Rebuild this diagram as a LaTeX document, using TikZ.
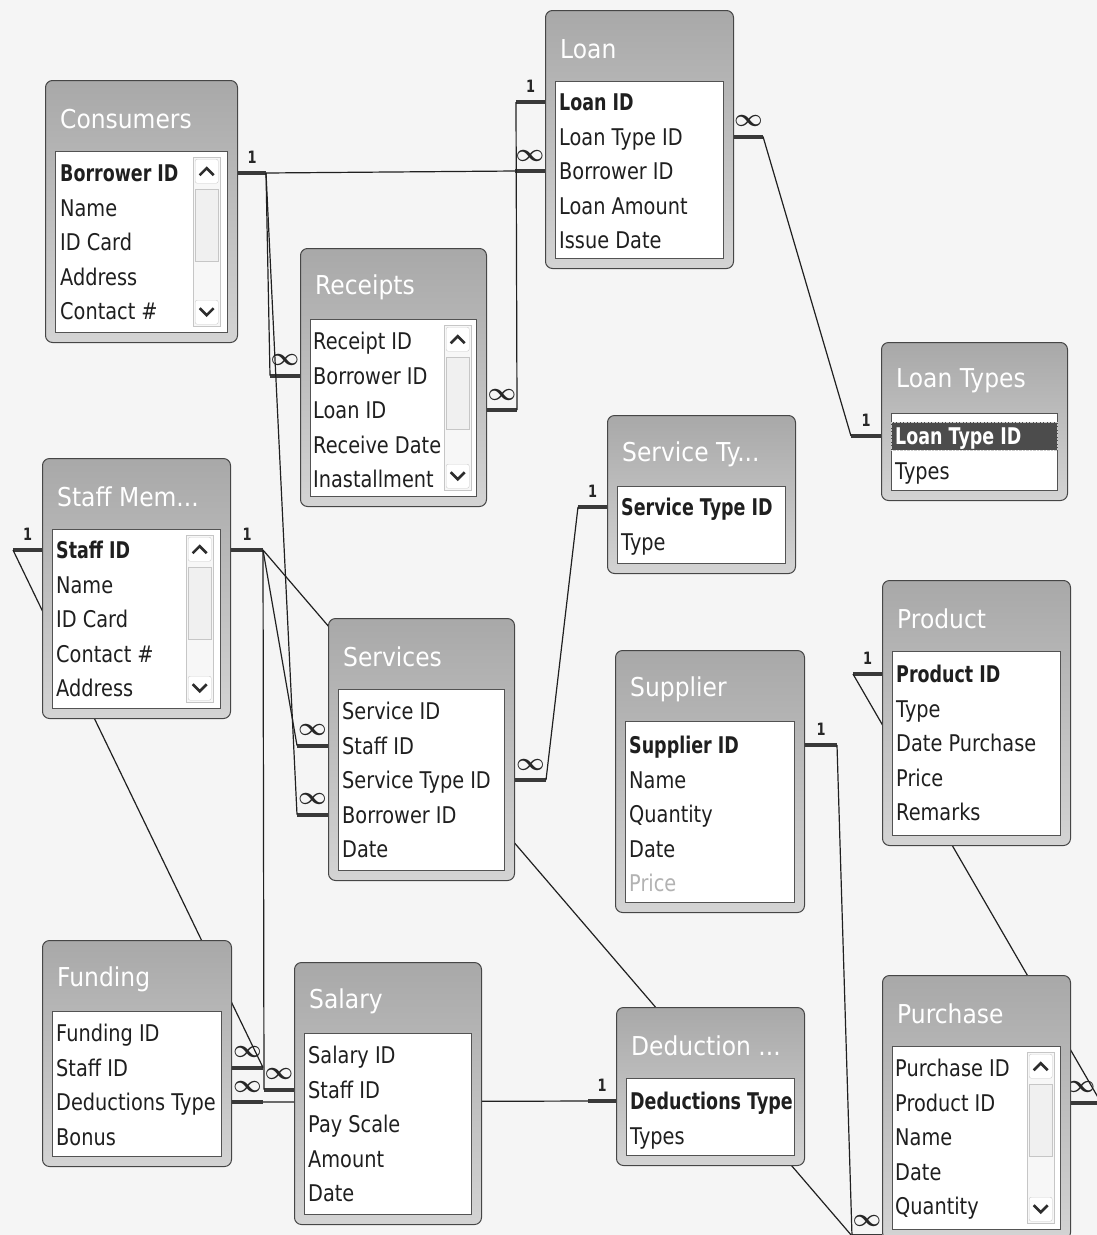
\documentclass[tikz,border=0pt]{standalone}
\usepackage{fontspec}
\newfontfamily\fieldfam[FakeStretch=0.84]{DejaVu Sans}
\newfontfamily\keyfam[FakeStretch=0.76]{DejaVu Sans}
\newfontfamily\titlefam[FakeStretch=0.9]{DejaVu Sans}
\usetikzlibrary{calc}
\pgfdeclarelayer{paper}
\pgfdeclarelayer{background}
\pgfsetlayers{paper,background,main}

\begin{document}
\begin{tikzpicture}[
		x=1pt, y=-1pt,
		tbl/.style    ={draw=gray!55!black, line width=1pt, rounded corners=7pt, top color=gray!68, bottom color=gray!34, anchor=north west, inner sep=0pt},
		fbox/.style   ={draw=gray!65!black, line width=1pt, fill=white, anchor=north west, inner sep=0pt},
		ttl/.style    ={anchor=west, inner sep=0pt, text=white, font=\titlefam\fontsize{26}{26}\selectfont},
		fld/.style    ={anchor=west, inner sep=0pt, text height=17pt, text depth=0pt, text=black!88, font=\fieldfam\fontsize{23}{23}\selectfont},
		key/.style    ={fld, font=\keyfam\bfseries\fontsize{23}{23}\selectfont},
		selrow/.style ={anchor=west, fill=gray!60!black, draw=gray!40, densely dotted, inner sep=0pt, minimum width=166, minimum height=28},
		sbar/.style   ={draw=gray!45, fill=gray!6, anchor=north west, inner sep=0pt, minimum width=27},
		sbtn/.style   ={draw=gray!40, fill=white, rounded corners=2pt, inner sep=0pt, minimum width=23, minimum height=24},
		sthumb/.style ={draw=gray!45, fill=gray!12, inner sep=0pt, minimum width=23, minimum height=72},
		chev/.style   ={draw=gray!35!black, line width=2.6pt},
		stub/.style   ={draw=gray!45!black, line width=4pt},
		rel/.style    ={draw=gray!25!black, line width=1.2pt},
		onelbl/.style ={midway, above=8pt, inner sep=0pt, text=black!85, font=\keyfam\bfseries\fontsize{17}{17}\selectfont},
		manylbl/.style={midway, above=8pt, inner sep=0pt, text=black!85, font=\fontsize{23}{23}\selectfont\boldmath}
		]
		\useasboundingbox (0,0) rectangle (1097,1235);
		\begin{pgfonlayer}{paper}
			\fill[gray!8] (0,0) rectangle (1097,1235);
		\end{pgfonlayer}
		
		% --- Consumers ---
		\node[tbl, minimum width=192, minimum height=262] (consumers) at (45,80) {};
		\node[fbox, minimum width=172, minimum height=181] (consumers-f) at (55,151) {};
		\node[ttl] (consumers-t) at (60,119) {Consumers};
		\node[key] (cons-bid) at (60,173) {Borrower ID};
		\foreach \fk/\ft [count=\i] in {name/Name, card/ID Card, addr/Address, tel/Contact \#}
			\node[fld] (cons-\fk) at (60,173+34.5*\i) {\ft};
		
		% --- Loan ---
		\node[tbl, minimum width=188, minimum height=258] (loan) at (545,10) {};
		\node[fbox, minimum width=168, minimum height=177] (loan-f) at (555,81) {};
		\node[ttl] (loan-t) at (560,49) {Loan};
		\node[key] (loan-lid) at (559,102) {Loan ID};
		\foreach \fk/\ft [count=\i] in {ltid/Loan Type ID, bid/Borrower ID, amt/Loan Amount, date/Issue Date}
			\node[fld] (loan-\fk) at (559,102+34.5*\i) {\ft};
		
		% --- Receipts ---
		\node[tbl, minimum width=186, minimum height=258] (receipts) at (300,248) {};
		\node[fbox, minimum width=166, minimum height=177] (receipts-f) at (310,319) {};
		\node[ttl] (receipts-t) at (315,287) {Receipts};
		\foreach \fk/\ft [count=\i from 0] in {rid/Receipt ID, bid/Borrower ID, lid/Loan ID, date/Receive Date, inst/Inastallment}
			\node[fld] (rec-\fk) at (313,341+34.5*\i) {\ft};
		
		% --- Loan Types ---
		\node[tbl, minimum width=186, minimum height=158] (loantypes) at (881,342) {};
		\node[fbox, minimum width=166, minimum height=77] (loantypes-f) at (891,413) {};
		\node[ttl] (loantypes-t) at (896,381) {Loan Types};
		\node[selrow] (lt-sel) at (891,436) {};
		\node[key, text=white] (lt-ltid) at (895,436) {Loan Type ID};
		\node[fld] (lt-types) at (895,470.5) {Types};
		
		% --- Service Ty... ---
		\node[tbl, minimum width=188, minimum height=158] (servicety) at (607,415) {};
		\node[fbox, minimum width=168, minimum height=77] (servicety-f) at (617,486) {};
		\node[ttl] (servicety-t) at (622,454) {Service Ty...};
		\node[key] (st-stid) at (621,507) {Service Type ID};
		\node[fld] (st-type) at (621,541.5) {Type};
		
		% --- Staff Mem... ---
		\node[tbl, minimum width=188, minimum height=260] (staff) at (42,458) {};
		\node[fbox, minimum width=168, minimum height=179] (staff-f) at (52,529) {};
		\node[ttl] (staff-t) at (57,497) {Staff Mem...};
		\node[key] (staff-sid) at (56,550) {Staff ID};
		\foreach \fk/\ft [count=\i] in {name/Name, card/ID Card, tel/Contact \#, addr/Address}
			\node[fld] (staff-\fk) at (56,550+34.5*\i) {\ft};
		
		% --- Services ---
		\node[tbl, minimum width=186, minimum height=262] (services) at (328,618) {};
		\node[fbox, minimum width=166, minimum height=181] (services-f) at (338,689) {};
		\node[ttl] (services-t) at (343,657) {Services};
		\foreach \fk/\ft [count=\i from 0] in {id/Service ID, sid/Staff ID, stid/Service Type ID, bid/Borrower ID, date/Date}
			\node[fld] (srv-\fk) at (342,711+34.5*\i) {\ft};
		
		% --- Supplier ---
		\node[tbl, minimum width=189, minimum height=262] (supplier) at (615,650) {};
		\node[fbox, minimum width=169, minimum height=181] (supplier-f) at (625,721) {};
		\node[ttl] (supplier-t) at (630,689) {Supplier};
		\node[key] (sup-supid) at (629,745) {Supplier ID};
		\foreach \fk/\ft [count=\i] in {name/Name, qty/Quantity, date/Date}
			\node[fld] (sup-\fk) at (629,745+34.5*\i) {\ft};
		\node[fld, text=gray!60] (sup-price) at (629,883) {Price};
		
		% --- Product ---
		\node[tbl, minimum width=188, minimum height=265] (product) at (882,580) {};
		\node[fbox, minimum width=168, minimum height=184] (product-f) at (892,651) {};
		\node[ttl] (product-t) at (897,619) {Product};
		\node[key] (prod-pid) at (896,674) {Product ID};
		\foreach \fk/\ft [count=\i] in {type/Type, dp/Date Purchase, price/Price, rem/Remarks}
			\node[fld] (prod-\fk) at (896,674+34.5*\i) {\ft};
		
		% --- Funding ---
		\node[tbl, minimum width=189, minimum height=226] (funding) at (42,940) {};
		\node[fbox, minimum width=169, minimum height=145] (funding-f) at (52,1011) {};
		\node[ttl] (funding-t) at (57,979) {Funding};
		\foreach \fk/\ft [count=\i from 0] in {fid/Funding ID, sid/Staff ID, dt/Deductions Type, bonus/Bonus}
			\node[fld] (fund-\fk) at (56,1033+34.5*\i) {\ft};
		
		% --- Salary ---
		\node[tbl, minimum width=187, minimum height=262] (salary) at (294,962) {};
		\node[fbox, minimum width=167, minimum height=181] (salary-f) at (304,1033) {};
		\node[ttl] (salary-t) at (309,1001) {Salary};
		\foreach \fk/\ft [count=\i from 0] in {salid/Salary ID, sid/Staff ID, scale/Pay Scale, amt/Amount, date/Date}
			\node[fld] (sal-\fk) at (308,1055+34.5*\i) {\ft};
		
		% --- Deduction ... ---
		\node[tbl, minimum width=188, minimum height=158] (deduction) at (616,1007) {};
		\node[fbox, minimum width=168, minimum height=77] (deduction-f) at (626,1078) {};
		\node[ttl] (deduction-t) at (631,1046) {Deduction ...};
		\node[key] (ded-dt) at (630,1101) {Deductions Type};
		\node[fld] (ded-types) at (630,1135.5) {Types};
		
		% --- Purchase ---
		\node[tbl, minimum width=188, minimum height=264] (purchase) at (882,975) {};
		\node[fbox, minimum width=168, minimum height=183] (purchase-f) at (892,1046) {};
		\node[ttl] (purchase-t) at (897,1014) {Purchase};
		\foreach \fk/\ft [count=\i from 0] in {purid/Purchase ID, pid/Product ID, name/Name, date/Date, qty/Quantity}
			\node[fld] (pur-\fk) at (895,1068+34.5*\i) {\ft};
		
		% --- Scroll bars ---
		\foreach \s/\x/\y/\h in {cons/193/157/169, rec/444/325/165, staff/186/535/167, pur/1027/1052/171} {
			\node[sbar, minimum height=\h] (\s-sb) at (\x,\y) {};
			\node[sbtn, anchor=north] (\s-up) at ($(\s-sb.north)+(0,2)$) {};
			\node[sbtn, anchor=south] (\s-dn) at ($(\s-sb.south)+(0,-2)$) {};
			\node[sthumb, anchor=north] (\s-th) at ($(\s-up.south)+(0,6)$) {};
			\draw[chev] ($(\s-up)+(-7,4)$) -- ++(7,-7) -- ++(7,7);
			\draw[chev] ($(\s-dn)+(-7,-4)$) -- ++(7,7) -- ++(7,-7);
		}
		
		% --- Relationships (behind the tables) ---
		\begin{pgfonlayer}{background}
			% Consumers -> Loan, Receipts, Services
			\draw[stub] (cons-bid -| consumers.east) -- ++(28,0) node[onelbl] (l-cons) {1} coordinate (cons-bid-o);
			\draw[stub] (loan-bid -| loan.west) -- ++(-30,0) node[manylbl] (l-loanb) {$\infty$} coordinate (loan-bid-o);
			\draw[stub] (rec-bid -| receipts.west) -- ++(-30,0) node[manylbl] (l-recb) {$\infty$} coordinate (rec-bid-o);
			\draw[stub] (srv-bid -| services.west) -- ++(-31,0) node[manylbl] (l-srvb) {$\infty$} coordinate (srv-bid-o);
			\draw[rel] (cons-bid-o) -- (loan-bid-o);
			\draw[rel] (cons-bid-o) -- (rec-bid-o);
			\draw[rel] (cons-bid-o) -- (srv-bid-o);
			
			% Loan -> Receipts
			\draw[stub] (loan-lid -| loan.west) -- ++(-29,0) node[onelbl] (l-loan) {1} coordinate (loan-lid-o);
			\draw[stub] (rec-lid -| receipts.east) -- ++(30,0) node[manylbl] (l-recl) {$\infty$} coordinate (rec-lid-o);
			\draw[rel] (loan-lid-o) -- (rec-lid-o);
			
			% Loan Types -> Loan
			\draw[stub] (lt-ltid -| loantypes.west) -- ++(-30,0) node[onelbl] (l-lt) {1} coordinate (lt-ltid-o);
			\draw[stub] (loan-ltid -| loan.east) -- ++(29,0) node[manylbl] (l-loant) {$\infty$} coordinate (loan-ltid-o);
			\draw[rel] (lt-ltid-o) -- (loan-ltid-o);
			
			% Service Ty... -> Services
			\draw[stub] (st-stid -| servicety.west) -- ++(-29,0) node[onelbl] (l-st) {1} coordinate (st-stid-o);
			\draw[stub] (srv-stid -| services.east) -- ++(31,0) node[manylbl] (l-srvt) {$\infty$} coordinate (srv-stid-o);
			\draw[rel] (st-stid-o) -- (srv-stid-o);
			
			% Staff Mem... -> Services, Salary, Purchase
			\draw[stub] (staff-sid -| staff.east) -- ++(32,0) node[onelbl] (l-staffr) {1} coordinate (staff-sid-r);
			\draw[stub] (srv-sid -| services.west) -- ++(-31,0) node[manylbl] (l-srvs) {$\infty$} coordinate (srv-sid-o);
			\draw[stub] (sal-sid -| salary.west) -- ++(-30,0) node[manylbl] (l-sals) {$\infty$} coordinate (sal-sid-o);
			\draw[stub] (purchase.west |- 0,1236) -- ++(-30,0) node[manylbl] (l-purh) {$\infty$} coordinate (pur-hid-o);
			\draw[rel] (staff-sid-r) -- (srv-sid-o);
			\draw[rel] (staff-sid-r) -- (sal-sid-o);
			\draw[rel] (staff-sid-r) -- (pur-hid-o);
			
			% Staff Mem... -> Funding
			\draw[stub] (staff-sid -| staff.west) -- ++(-29,0) node[onelbl] (l-staffl) {1} coordinate (staff-sid-l);
			\draw[stub] (fund-sid -| funding.east) -- ++(31,0) node[manylbl] (l-funds) {$\infty$} coordinate (fund-sid-o);
			\draw[rel] (staff-sid-l) -- (fund-sid-o);
			
			% Deduction ... -> Funding
			\draw[stub] (ded-dt -| deduction.west) -- ++(-28,0) node[onelbl] (l-ded) {1} coordinate (ded-dt-o);
			\draw[stub] (fund-dt -| funding.east) -- ++(31,0) node[manylbl] (l-fundd) {$\infty$} coordinate (fund-dt-o);
			\draw[rel] (ded-dt-o) -- (fund-dt-o);
			
			% Supplier -> Purchase
			\draw[stub] (sup-supid -| supplier.east) -- ++(32,0) node[onelbl] (l-sup) {1} coordinate (sup-supid-o);
			\draw[rel] (sup-supid-o) -- (pur-hid-o);
			
			% Product -> Purchase
			\draw[stub] (prod-pid -| product.west) -- ++(-29,0) node[onelbl] (l-prod) {1} coordinate (prod-pid-o);
			\draw[stub] (pur-pid -| purchase.east) -- ++(30,0) node[manylbl, xshift=-5pt] (l-purp) {$\infty$} coordinate (pur-pid-o);
			\draw[rel] (prod-pid-o) -- (pur-pid-o);
		\end{pgfonlayer}
		
	\end{tikzpicture}
\end{document}
